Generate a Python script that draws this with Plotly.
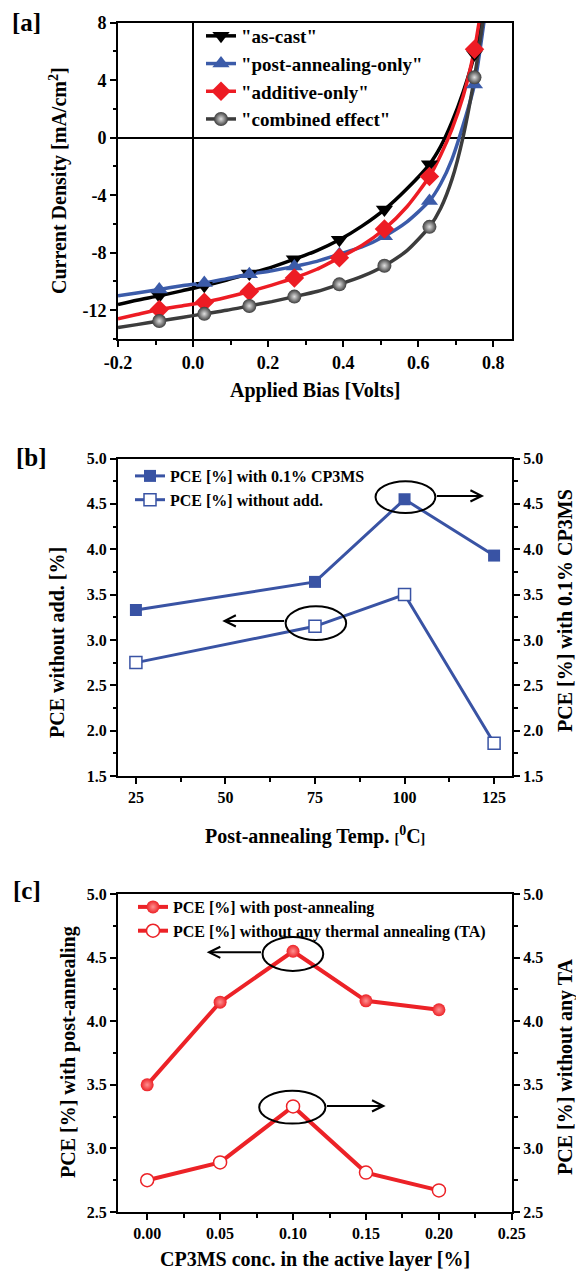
import plotly.graph_objects as go

# ---------------- Panel a: J-V curves ----------------
ascast_bias = [-0.2, -0.15, -0.09, -0.03, 0.03, 0.09, 0.15, 0.21, 0.27, 0.33, 0.39, 0.45, 0.51, 0.57, 0.63, 0.66, 0.69, 0.72, 0.75, 0.766]
ascast_j = [-11.6, -11.3, -11.0, -10.65, -10.3, -9.9, -9.45, -9.0, -8.45, -7.85, -7.1, -6.15, -5.0, -3.55, -1.85, -0.6, 1.1, 3.2, 5.8, 8.0]

post_bias = [-0.2, -0.15, -0.09, -0.03, 0.03, 0.09, 0.15, 0.21, 0.27, 0.33, 0.39, 0.45, 0.51, 0.57, 0.63, 0.66, 0.69, 0.72, 0.75, 0.775]
post_j = [-11.0, -10.8, -10.55, -10.3, -10.1, -9.8, -9.5, -9.25, -8.95, -8.6, -8.1, -7.6, -6.85, -5.85, -4.4, -3.2, -1.5, 0.9, 3.7, 8.0]

add_bias = [-0.2, -0.15, -0.09, -0.03, 0.03, 0.09, 0.15, 0.21, 0.27, 0.33, 0.39, 0.45, 0.51, 0.57, 0.63, 0.66, 0.69, 0.72, 0.75, 0.762]
add_j = [-12.6, -12.3, -11.95, -11.7, -11.45, -11.1, -10.7, -10.25, -9.75, -9.15, -8.35, -7.5, -6.35, -4.8, -2.7, -1.2, 0.6, 2.9, 6.15, 8.0]

comb_bias = [-0.2, -0.15, -0.09, -0.03, 0.03, 0.09, 0.15, 0.21, 0.27, 0.33, 0.39, 0.45, 0.51, 0.57, 0.63, 0.66, 0.69, 0.72, 0.75, 0.772]
comb_j = [-13.2, -13.0, -12.75, -12.5, -12.25, -12.0, -11.7, -11.4, -11.05, -10.7, -10.2, -9.65, -8.9, -7.85, -6.2, -4.9, -2.9, 0.1, 4.2, 8.0]

marker_bias = [-0.09, 0.03, 0.15, 0.27, 0.39, 0.51, 0.63, 0.75]

a_names = ['"as-cast"', '"post-annealing-only"', '"additive-only"', '"combined effect"']
a_xtickvals = [-0.2, 0.0, 0.2, 0.4, 0.6, 0.8]
a_xticktext = ["-0.2", "0.0", "0.2", "0.4", "0.6", "0.8"]
a_xminor = [-0.1, 0.1, 0.3, 0.5, 0.7]
a_ytickvals = [8, 4, 0, -4, -8, -12]
a_yticktext = ["8", "4", "0", "-4", "-8", "-12"]
a_yminor = [6, 2, -2, -6, -10, -14]

# ---------------- Panel b ----------------
temp_c = [25, 75, 100, 125]
pce_with_cp3ms = [3.33, 3.64, 4.55, 3.93]
pce_without_add = [2.75, 3.15, 3.50, 1.86]
b_names = ["PCE [%] with 0.1% CP3MS", "PCE [%] without add."]

# ---------------- Panel c ----------------
cp3ms_conc = [0.00, 0.05, 0.10, 0.15, 0.20]
pce_post_anneal = [3.50, 4.15, 4.55, 4.16, 4.09]
pce_no_ta = [2.75, 2.89, 3.33, 2.81, 2.67]
c_names = ["PCE [%] with post-annealing", "PCE [%] without any thermal annealing (TA)"]

FONT = "Liberation Serif"
BLUE = "#3953a4"
RED = "#ec2227"

# layout geometry (pixels)
W, H = 576, 1271
ML, MR, MT, MB = 118, 64, 22, 59
PW = W - ML - MR
PH = H - MT - MB


def PX(p):
    return (p - ML) / PW


def PY(p):
    return (H - MB - p) / PH


def bfont(size, color="black"):
    return dict(family=FONT, size=size, color=color, weight="bold")


fig = go.Figure()

a_series = [
    (a_names[0], ascast_bias, ascast_j, "#000000", "triangle-down", None, 15),
    (a_names[1], post_bias, post_j, "#3b5ba9", "triangle-up", None, 15),
    (a_names[2], add_bias, add_j, "#ed1c24", "diamond", None, 15),
    (a_names[3], comb_bias, comb_j, "#3c3c3c", "circle", "#e0e0e0", 14),
]

for name, xs, ys, col, sym, grad, ms in a_series:
    fig.add_trace(go.Scatter(x=xs, y=ys, mode="lines", xaxis="x", yaxis="y",
                             line=dict(color=col, width=3.5, shape="spline", smoothing=0.6),
                             showlegend=False, hoverinfo="skip"))


def marker_style(col, sym, grad, ms):
    m = dict(symbol=sym, size=ms, color=col, line=dict(width=0))
    if grad:
        m["gradient"] = dict(type="radial", color=grad)
    return m


for name, xs, ys, col, sym, grad, ms in a_series:
    mx = [x for x in xs if any(abs(x - b) < 1e-9 for b in marker_bias)]
    my = [y for x, y in zip(xs, ys) if any(abs(x - b) < 1e-9 for b in marker_bias)]
    fig.add_trace(go.Scatter(x=mx, y=my, mode="markers", xaxis="x", yaxis="y",
                             marker=marker_style(col, sym, grad, ms),
                             showlegend=False, hoverinfo="skip"))

for name, xs, ys, col, sym, grad, ms in a_series:
    fig.add_trace(go.Scatter(x=[None], y=[None], mode="lines+markers", name=name,
                             xaxis="x", yaxis="y", legend="legend",
                             line=dict(color=col, width=3.5),
                             marker=marker_style(col, sym, grad, ms)))

# Panel b
fig.add_trace(go.Scatter(x=temp_c, y=pce_with_cp3ms, mode="lines+markers", name=b_names[0],
                         xaxis="x2", yaxis="y4", legend="legend2",
                         line=dict(color=BLUE, width=3),
                         marker=dict(symbol="square", size=12, color=BLUE)))
fig.add_trace(go.Scatter(x=temp_c, y=pce_without_add, mode="lines+markers", name=b_names[1],
                         xaxis="x2", yaxis="y2", legend="legend2",
                         line=dict(color=BLUE, width=3),
                         marker=dict(symbol="square", size=12, color="white",
                                     line=dict(color=BLUE, width=1.5))))

# Panel c
fig.add_trace(go.Scatter(x=cp3ms_conc, y=pce_post_anneal, mode="lines+markers", name=c_names[0],
                         xaxis="x3", yaxis="y3", legend="legend3",
                         line=dict(color=RED, width=4),
                         marker=dict(symbol="circle", size=13, color=RED,
                                     gradient=dict(type="radial", color="#ff9090"))))
fig.add_trace(go.Scatter(x=cp3ms_conc, y=pce_no_ta, mode="lines+markers", name=c_names[1],
                         xaxis="x3", yaxis="y5", legend="legend3",
                         line=dict(color=RED, width=4),
                         marker=dict(symbol="circle", size=13, color="white",
                                     line=dict(color=RED, width=1.5))))

axis_common = dict(showline=True, linewidth=2, linecolor="black", ticks="outside",
                   ticklen=6, tickwidth=2, tickcolor="black", showgrid=False, zeroline=False)
minor_common = dict(ticks="outside", ticklen=3.5, tickwidth=2, tickcolor="black")

dom_a = [PY(339), PY(22.7)]
dom_b = [PY(776), PY(458.5)]
dom_c = [PY(1212), PY(894)]

fig.update_layout(
    width=W, height=H, autosize=False,
    margin=dict(l=ML, r=MR, t=MT, b=MB, pad=0),
    paper_bgcolor="white", plot_bgcolor="white",
    xaxis=dict(**axis_common, domain=[0, 1], anchor="y", range=[-0.2, 0.85], mirror=True,
               tickmode="array", tickvals=a_xtickvals, ticktext=a_xticktext,
               minor=dict(**minor_common, tickmode="array", tickvals=a_xminor),
               tickfont=bfont(18)),
    yaxis=dict(**axis_common, domain=dom_a, anchor="x", range=[-14, 8], mirror=True,
               tickmode="array", tickvals=a_ytickvals, ticktext=a_yticktext,
               minor=dict(**minor_common, tickmode="array", tickvals=a_yminor),
               tickfont=bfont(18)),
    xaxis2=dict(**axis_common, domain=[0, 1], anchor="y2", range=[20, 130], mirror=True,
                tickmode="linear", tick0=25, dtick=25,
                minor=dict(**minor_common, dtick=12.5, tick0=12.5),
                tickfont=bfont(16)),
    yaxis2=dict(**axis_common, domain=dom_b, anchor="x2", range=[1.5, 5.0001],
                tickmode="linear", tick0=1.5, dtick=0.5, tickformat=".1f",
                minor=dict(**minor_common, dtick=0.25, tick0=1.5),
                tickfont=bfont(16)),
    yaxis4=dict(**axis_common, overlaying="y2", side="right", anchor="x2", range=[1.5, 5.0001],
                tickmode="linear", tick0=1.5, dtick=0.5, tickformat=".1f",
                minor=dict(**minor_common, dtick=0.25, tick0=1.5),
                tickfont=bfont(16)),
    xaxis3=dict(**axis_common, domain=[0, 1], anchor="y3", range=[-0.02, 0.2501], mirror=True,
                tickmode="linear", tick0=0, dtick=0.05, tickformat=".2f",
                minor=dict(**minor_common, dtick=0.025, tick0=0),
                tickfont=bfont(16)),
    yaxis3=dict(**axis_common, domain=dom_c, anchor="x3", range=[2.5, 5.0001],
                tickmode="linear", tick0=2.5, dtick=0.5, tickformat=".1f",
                minor=dict(**minor_common, dtick=0.25, tick0=2.5),
                tickfont=bfont(16)),
    yaxis5=dict(**axis_common, overlaying="y3", side="right", anchor="x3", range=[2.5, 5.0001],
                tickmode="linear", tick0=2.5, dtick=0.5, tickformat=".1f",
                minor=dict(**minor_common, dtick=0.25, tick0=2.5),
                tickfont=bfont(16)),
    legend=dict(x=PX(201), y=PY(17), xanchor="left", yanchor="top", bgcolor="rgba(0,0,0,0)",
                font=bfont(19), tracegroupgap=0, itemwidth=30),
    legend2=dict(x=PX(130), y=PY(459), xanchor="left", yanchor="top", bgcolor="rgba(0,0,0,0)",
                 font=bfont(16), tracegroupgap=0, itemwidth=30),
    legend3=dict(x=PX(133), y=PY(890), xanchor="left", yanchor="top", bgcolor="rgba(0,0,0,0)",
                 font=bfont(16), tracegroupgap=0, itemwidth=30),
)

# zero lines for panel a
fig.update_xaxes(selector=dict(anchor="y"), zeroline=True, zerolinecolor="black", zerolinewidth=2)
fig.update_yaxes(selector=dict(anchor="x"), zeroline=True, zerolinecolor="black", zerolinewidth=2)

# ellipses and arrows
shapes = [
    dict(type="circle", xref="x2", yref="y4", x0=91.9, x1=108.6, y0=4.40, y1=4.75,
         line=dict(color="black", width=2)),
    dict(type="circle", xref="x2", yref="y2", x0=66.8, x1=83.7, y0=3.0, y1=3.37,
         line=dict(color="black", width=2)),
    dict(type="circle", xref="x3", yref="y3", x0=0.0791, x1=0.1207, y0=4.395, y1=4.663,
         line=dict(color="black", width=2)),
    dict(type="circle", xref="x3", yref="y5", x0=0.0768, x1=0.1222, y0=3.195, y1=3.453,
         line=dict(color="black", width=2)),
]
fig.update_layout(shapes=shapes)

arrows = [
    ("x2", "y4", 122.2, 4.588, 108.6, 4.588),
    ("x2", "y2", 49.1, 3.21, 66.8, 3.21),
    ("x3", "y3", 0.0408, 4.542, 0.0791, 4.542),
    ("x3", "y5", 0.1635, 3.334, 0.1222, 3.334),
]
annotations = []
for xr, yr, x, y, ax, ay in arrows:
    annotations.append(dict(xref=xr, yref=yr, axref=xr, ayref=yr, x=x, y=y, ax=ax, ay=ay,
                            text="", showarrow=True, arrowhead=5, arrowsize=1.1,
                            arrowwidth=2, arrowcolor="black"))


def label(text, x, y, size, angle=0):
    return dict(xref="paper", yref="paper", x=PX(x), y=PY(y), text=text, showarrow=False,
                xanchor="center", yanchor="middle", textangle=angle, font=bfont(size))


annotations += [
    label("[a]", 26, 22, 25),
    label("[b]", 31, 457, 25),
    label("[c]", 27, 890, 25),
    label("Applied Bias [Volts]", 315, 390, 20),
    label("Current Density [mA/cm<sup>2</sup>]", 59, 181, 20, -90),
    label("Post-annealing Temp. <span style='font-size:14px'>[</span><sup>0</sup>C<span style='font-size:14px'>]</span>", 315, 835, 20),
    label("PCE without add. [%]", 57, 643, 20, -90),
    label("PCE [%] with 0.1% CP3MS", 565, 611, 20, -90),
    label("CP3MS conc. in the active layer [%]", 315, 1259, 20),
    label("PCE [%] with post-annealing", 68, 1052, 20, -90),
    label("PCE [%] without any TA", 565, 1067, 20, -90),
]
fig.update_layout(annotations=annotations)

fig.write_html("out.html", config={"displayModeBar": False},
               post_script="document.body.style.margin='0';document.body.style.overflow='hidden';")
